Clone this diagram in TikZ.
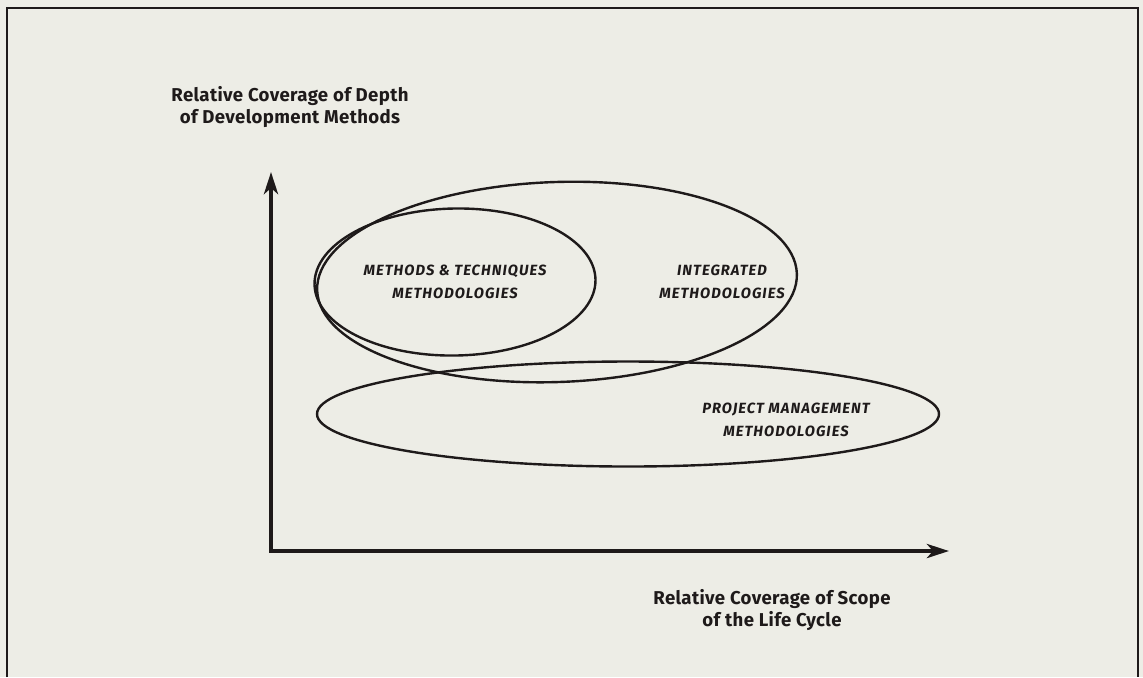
\documentclass[tikz,border=0pt]{standalone}
\usepackage{fontspec}
\setmainfont{Fira Sans}
\usetikzlibrary{shapes.geometric, arrows.meta, positioning}
\definecolor{paper}{HTML}{EDEDE6}
\definecolor{ink}{HTML}{1E1A1A}

\begin{document}
\begin{tikzpicture}[x=0.5pt, y=-0.5pt,
    region/.style={ellipse, draw=ink, line width=1.2pt, inner sep=0pt, outer sep=0pt},
    regionlabel/.style={font=\fontsize{7.4}{11.5}\selectfont\bfseries\itshape\addfontfeatures{LetterSpace=7}, align=center, text=ink},
    axislabel/.style={font=\fontsize{9.3}{10.8}\selectfont\bfseries\addfontfeatures{LetterSpace=2}, align=center, text=ink},
    axisline/.style={draw=ink, line width=2pt, {Stealth[length=11pt,width=7pt,inset=3pt]}-{Stealth[length=11pt,width=7pt,inset=3pt]}}]

      % Page and frame
      \fill[paper] (0,0) rectangle (1143,677);
      \useasboundingbox (0,0) rectangle (1143,677);
      \draw[ink, line width=1.1pt] (7,677) -- (7,8) -- (1138,8) -- (1138,677);

      % Axes
      \coordinate (origin) at (271,551);
      \coordinate (ytip) at (271,172);
      \coordinate (xtip) at (949,551);
      \draw[axisline] (ytip) -- (origin) -- (xtip);

      \node[axislabel] (ylabel) at (290,107) {Relative Coverage of Depth\\of Development Methods};
      \node[axislabel] (xlabel) at (772,610) {Relative Coverage of Scope\\of the Life Cycle};

      % Regions
      \node[region, minimum width=240pt, minimum height=100pt, rotate=2] (integrated) at (557,282) {};
      \node[region, minimum width=140.5pt, minimum height=73.5pt, rotate=1] (methods) at (455,282) {};
      \node[region, minimum width=311pt, minimum height=52.5pt] (project) at (628,414) {};

      % Region labels
      \node[regionlabel] (methodstext) at (455,282) {METHODS \& TECHNIQUES\\METHODOLOGIES};
      \node[regionlabel] (integratedtext) at (722,282) {INTEGRATED\\METHODOLOGIES};
      \node[regionlabel] (projecttext) at (786,420) {PROJECT MANAGEMENT\\METHODOLOGIES};

\end{tikzpicture}
\end{document}
